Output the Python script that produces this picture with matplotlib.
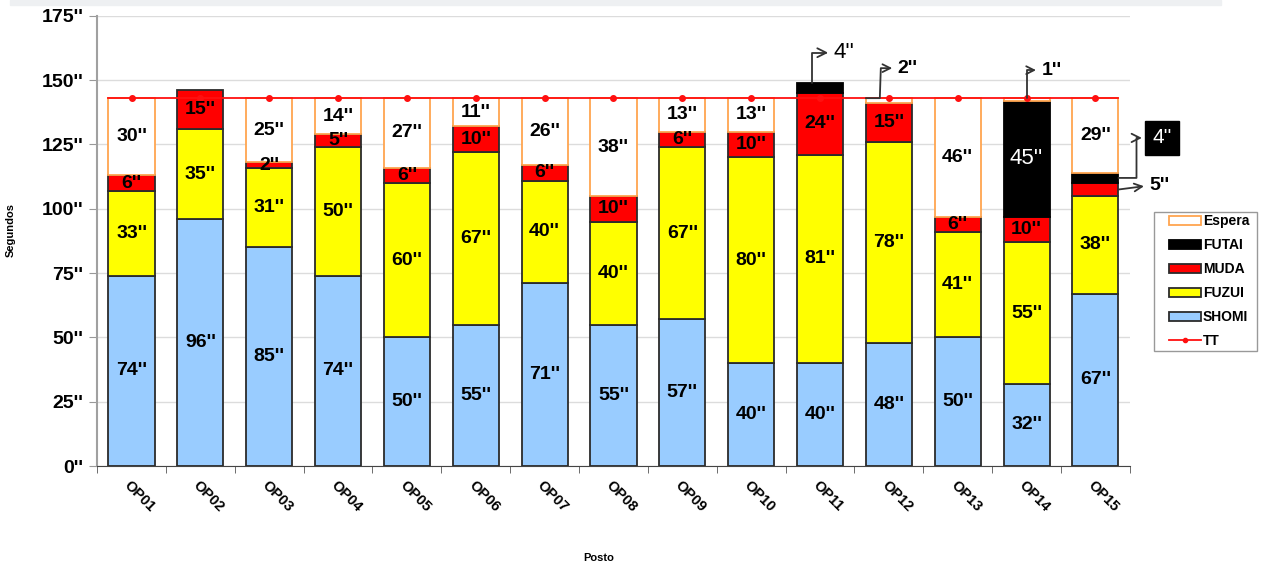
import numpy as np
import matplotlib.pyplot as plt
from matplotlib.lines import Line2D
from matplotlib.patches import Rectangle

postos = ["OP01", "OP02", "OP03", "OP04", "OP05", "OP06", "OP07", "OP08",
          "OP09", "OP10", "OP11", "OP12", "OP13", "OP14", "OP15"]
shomi = [74, 96, 85, 74, 50, 55, 71, 55, 57, 40, 40, 48, 50, 32, 67]
fuzui = [33, 35, 31, 50, 60, 67, 40, 40, 67, 80, 81, 78, 41, 55, 38]
muda = [6, 15, 2, 5, 6, 10, 6, 10, 6, 10, 24, 15, 6, 10, 5]
futai = [0, 0, 0, 0, 0, 0, 0, 0, 0, 0, 4, 0, 0, 45, 4]
espera = [30, 0, 25, 14, 27, 11, 26, 38, 13, 13, 0, 2, 46, 1, 29]
tt = [143] * 15

plt.rcParams['font.family'] = ['Liberation Sans', 'DejaVu Sans']

fig = plt.figure(figsize=(12.61, 5.65), dpi=100)
# light grey strip at the very top, like the screenshot
fig.patches.append(Rectangle((0.008, 0.992), 0.96, 0.008, transform=fig.transFigure,
                             color="#EEF0F2", zorder=0))
ax = fig.add_axes([0.077, 0.175, 0.819, 0.797])

x = np.arange(len(postos))
w = 0.67

series = [
    ("SHOMI", shomi, "#99CCFF", "#2b2b2b", "black"),
    ("FUZUI", fuzui, "#FFFF00", "#2b2b2b", "black"),
    ("MUDA", muda, "#FF0000", "#2b2b2b", "black"),
    ("FUTAI", futai, "#000000", "#000000", "white"),
    ("Espera", espera, "white", "#FFA54F", "black"),
]
# segments labelled with an arrow instead of inside the bar
annotated = {(10, "FUTAI"), (11, "Espera"), (13, "Espera"), (14, "FUTAI"), (14, "MUDA")}

handles = {}
bottom = np.zeros(len(x))
for name, vals, fc, ec, tc in series:
    vals = np.array(vals, float)
    m = vals > 0
    b = ax.bar(x[m], vals[m], w, bottom=bottom[m], color=fc, edgecolor=ec,
               lw=1.3, zorder=2, label=name)
    handles[name] = b
    for i in x[m]:
        if (i, name) in annotated:
            continue
        if name == "FUTAI":
            ax.text(i, bottom[i] + vals[i] / 2, f"{int(vals[i])}''", ha="center",
                    va="center", fontsize=16, color=tc, zorder=4)
        else:
            ax.text(i, bottom[i] + vals[i] / 2, f"{int(vals[i])}''", ha="center",
                    va="center", fontsize=14, fontweight="bold", color=tc, zorder=4)
    bottom += vals

# TT line, stretched to the outer bar edges
xt = np.r_[x[0] - w / 2, x, x[-1] + w / 2]
yt = np.r_[tt[0], tt, tt[-1]]
ax.plot(xt, yt, color="#FF1010", lw=1.3, marker="o", ms=4,
        markevery=list(range(1, len(x) + 1)), zorder=3)

arrow = dict(arrowstyle="<-", color="#333333", lw=1.3, relpos=(0, 0.5),
             shrinkA=2, shrinkB=0)
s = np.cumsum([shomi, fuzui, muda, futai, espera], axis=0)

ax.annotate("4''", xy=(10 - 0.12, s[3][10]), xytext=(22, 30), textcoords="offset pixels",
            ha="left", va="center", fontsize=16,
            arrowprops=dict(arrow, connectionstyle="angle,angleA=0,angleB=90,rad=0"))
ax.annotate("2''", xy=(11 - w / 2, s[4][11]), xytext=(32, 30), textcoords="offset pixels",
            ha="left", va="center", fontsize=14, fontweight="bold",
            arrowprops=dict(arrow, connectionstyle="arc,angleA=180,armA=17,angleB=0,armB=14,rad=0"))
ax.annotate("1''", xy=(13, s[4][13]), xytext=(15, 28), textcoords="offset pixels",
            ha="left", va="center", fontsize=14, fontweight="bold",
            arrowprops=dict(arrow, connectionstyle="angle,angleA=0,angleB=90,rad=0"))
ax.annotate("5''", xy=(14 + w / 2, s[1][14] + muda[14] / 2), xytext=(31, 4),
            textcoords="offset pixels", ha="left", va="center", fontsize=14,
            fontweight="bold", arrowprops=dict(arrow, connectionstyle="arc3"))
ax.annotate("4''", xy=(14 + w / 2, s[2][14] + futai[14] / 2), xytext=(34, 40),
            textcoords="offset pixels", ha="left", va="center", fontsize=15,
            color="white", bbox=dict(boxstyle="square,pad=0.35", fc="black", ec="black"),
            arrowprops=dict(arrow, connectionstyle="arc,angleA=180,armA=16,angleB=0,armB=18,rad=0"))

ax.set_xlim(-0.5, len(x) - 0.5)
ax.set_ylim(0, 175)
yt_vals = np.arange(0, 176, 25)
ax.set_yticks(yt_vals)
ax.set_yticklabels([f"{v}''" for v in yt_vals], fontsize=14, fontweight="bold")
ax.set_xticks(x)
ax.set_xticklabels(postos, rotation=-45, ha="left", va="top", rotation_mode="anchor",
                   fontsize=10.5, fontweight="bold")
ax.set_xticks(np.arange(-0.5, len(x), 1), minor=True)
ax.tick_params(axis="x", which="major", length=0, pad=9)
ax.tick_params(axis="x", which="minor", length=5, color="#555555", direction="out")
ax.tick_params(axis="y", length=6, color="#999999", pad=4)

ax.yaxis.grid(True, color="#DCDCDC", lw=1)
ax.set_axisbelow(True)
for sp in ["top", "right"]:
    ax.spines[sp].set_visible(False)
ax.spines["left"].set_color("#A0A0A0")
ax.spines["left"].set_linewidth(1.5)
ax.spines["bottom"].set_color("#444444")

ax.set_ylabel("Segundos", fontsize=8, fontweight="bold")
ax.yaxis.set_label_coords(-0.079, 0.524)
ax.set_xlabel("Posto", fontsize=8, fontweight="bold")
ax.xaxis.set_label_coords(0.486, -0.192)

# legend frame drawn separately (wider left padding than matplotlib allows)
fig.patches.append(Rectangle((1154 / 1261, 1 - 351 / 565), 103 / 1261, 139 / 565,
                             transform=fig.transFigure, fc="white", ec="#999999",
                             lw=1, zorder=1))
tt_handle = Line2D([], [], color="#FF1010", lw=1.3, marker="o", ms=3)
order = ["Espera", "FUTAI", "MUDA", "FUZUI", "SHOMI"]
leg = fig.legend([handles[k] for k in order] + [tt_handle], order + ["TT"],
                 loc="upper left", bbox_to_anchor=(1169 / 1261, 1 - 214 / 565),
                 frameon=False, prop={"weight": "bold", "size": 10},
                 handlelength=2.3, handleheight=0.6, handletextpad=0.15,
                 labelspacing=0.72, borderpad=0, borderaxespad=0)
leg.set_zorder(2)

fig.savefig("out.png", dpi=100)
